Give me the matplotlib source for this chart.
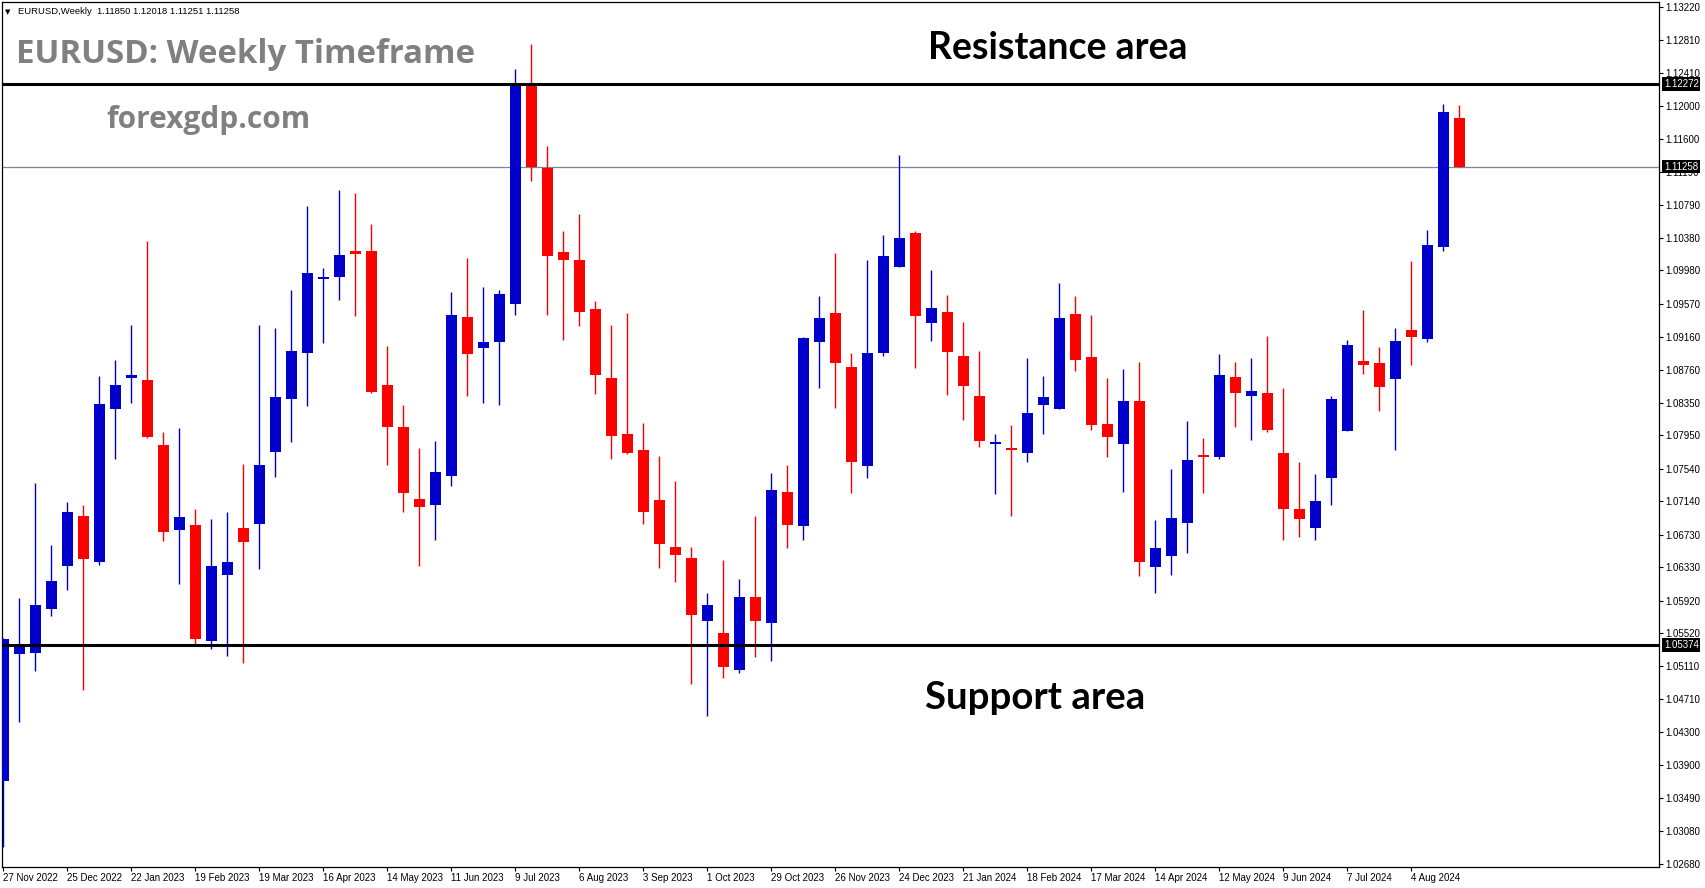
import numpy as np
import pandas as pd
import matplotlib
matplotlib.use("Agg")
from matplotlib import pyplot as plt

W, H = 1705, 888

# weekly EURUSD candles (27 Nov 2022 .. 25 Aug 2024)
opens = [1.0370, 1.0526, 1.0527, 1.0582, 1.0634, 1.0696, 1.0639, 1.0828, 1.0866, 1.0863,
         1.0783, 1.0679, 1.0685, 1.0542, 1.0623, 1.0681, 1.0686, 1.0775, 1.0840, 1.0896,
         1.0987, 1.0990, 1.1022, 1.1022, 1.0857, 1.0805, 1.0717, 1.0710, 1.0745, 1.0941,
         1.0903, 1.0910, 1.0957, 1.1227, 1.1124, 1.1021, 1.1011, 1.0950, 1.0866, 1.0797,
         1.0777, 1.0716, 1.0658, 1.0644, 1.0567, 1.0552, 1.0507, 1.0596, 1.0564, 1.0726,
         1.0684, 1.0910, 1.0946, 1.0879, 1.0757, 1.0896, 1.1002, 1.1044, 1.0933, 1.0947,
         1.0893, 1.0844, 1.0785, 1.0780, 1.0774, 1.0832, 1.0828, 1.0944, 1.0892, 1.0809,
         1.0785, 1.0837, 1.0633, 1.0647, 1.0687, 1.0770, 1.0768, 1.0867, 1.0844, 1.0847,
         1.0774, 1.0705, 1.0681, 1.0743, 1.0801, 1.0887, 1.0884, 1.0865, 1.0925, 1.0914,
         1.1027, 1.11850]
highs = [1.0546, 1.0595, 1.0737, 1.0660, 1.0713, 1.0710, 1.0868, 1.0888, 1.0931, 1.1034,
         1.0799, 1.0804, 1.0705, 1.0692, 1.0701, 1.0760, 1.0931, 1.0927, 1.0974, 1.1077,
         1.1001, 1.1097, 1.1093, 1.1055, 1.0905, 1.0833, 1.0780, 1.0788, 1.0972, 1.1013,
         1.0978, 1.0974, 1.1246, 1.1277, 1.1151, 1.1047, 1.1067, 1.0961, 1.0931, 1.0946,
         1.0810, 1.0770, 1.0739, 1.0658, 1.0601, 1.0642, 1.0619, 1.0696, 1.0749, 1.0759,
         1.0916, 1.0967, 1.1019, 1.0896, 1.1011, 1.1042, 1.1140, 1.1046, 1.0999, 1.0968,
         1.0935, 1.0899, 1.0797, 1.0808, 1.0890, 1.0868, 1.0983, 1.0966, 1.0943, 1.0866,
         1.0877, 1.0885, 1.0691, 1.0754, 1.0813, 1.0792, 1.0895, 1.0885, 1.0890, 1.0917,
         1.0853, 1.0762, 1.0748, 1.0844, 1.0912, 1.0949, 1.0904, 1.0927, 1.1010, 1.1048,
         1.1203, 1.12018]
lows = [1.0289, 1.0443, 1.0505, 1.0573, 1.0605, 1.0482, 1.0636, 1.0766, 1.0835, 1.0792,
        1.0665, 1.0612, 1.0539, 1.0532, 1.0524, 1.0515, 1.0631, 1.0744, 1.0787, 1.0831,
        1.0909, 1.0962, 1.0942, 1.0847, 1.0759, 1.0701, 1.0635, 1.0667, 1.0733, 1.0844,
        1.0835, 1.0833, 1.0943, 1.1108, 1.0943, 1.0912, 1.0930, 1.0846, 1.0766, 1.0772,
        1.0686, 1.0632, 1.0615, 1.0489, 1.0450, 1.0497, 1.0503, 1.0523, 1.0518, 1.0657,
        1.0666, 1.0853, 1.0829, 1.0724, 1.0743, 1.0893, 1.1002, 1.0878, 1.0911, 1.0845,
        1.0814, 1.0781, 1.0723, 1.0696, 1.0762, 1.0797, 1.0828, 1.0874, 1.0802, 1.0768,
        1.0725, 1.0622, 1.0601, 1.0624, 1.0650, 1.0724, 1.0766, 1.0805, 1.0789, 1.0799,
        1.0667, 1.0670, 1.0666, 1.0710, 1.0801, 1.0871, 1.0825, 1.0777, 1.0882, 1.0910,
        1.1022, 1.11251]
closes = [1.0545, 1.0539, 1.0587, 1.0616, 1.0701, 1.0643, 1.0834, 1.0857, 1.0869, 1.0793,
          1.0676, 1.0695, 1.0545, 1.0635, 1.0639, 1.0664, 1.0759, 1.0842, 1.0899, 1.0995,
          1.0990, 1.1017, 1.1018, 1.0849, 1.0805, 1.0724, 1.0707, 1.0750, 1.0943, 1.0895,
          1.0910, 1.0969, 1.1227, 1.1125, 1.1016, 1.1011, 1.0947, 1.0869, 1.0794, 1.0773,
          1.0701, 1.0662, 1.0648, 1.0574, 1.0587, 1.0510, 1.0596, 1.0567, 1.0728, 1.0685,
          1.0915, 1.0940, 1.0884, 1.0762, 1.0896, 1.1016, 1.1038, 1.0942, 1.0952, 1.0898,
          1.0856, 1.0788, 1.0787, 1.0777, 1.0823, 1.0842, 1.0940, 1.0888, 1.0808, 1.0793,
          1.0837, 1.0639, 1.0657, 1.0694, 1.0765, 1.0769, 1.0869, 1.0847, 1.0850, 1.0802,
          1.0705, 1.0692, 1.0714, 1.0840, 1.0906, 1.0882, 1.0855, 1.0911, 1.0916, 1.1029,
          1.1193, 1.11258]

price_ticks = [1.13220, 1.12810, 1.12410, 1.12000, 1.11600, 1.11190, 1.10790, 1.10380,
               1.09980, 1.09570, 1.09160, 1.08760, 1.08350, 1.07950, 1.07540, 1.07140,
               1.06730, 1.06330, 1.05920, 1.05520, 1.05110, 1.04710, 1.04300, 1.03900,
               1.03490, 1.03080, 1.02680]
resistance = 1.12272
support = 1.05374
last_price = 1.11258
header = "EURUSD,Weekly  1.11850 1.12018 1.11251 1.11258"

BULL = "#0000CD"
BEAR = "#FF0000"
GREY = "#808080"

n = len(opens)
x = np.arange(n)
o = np.array(opens)
c = np.array(closes)
cols = np.where(c >= o, BULL, BEAR)
weeks = pd.date_range("2022-11-27", periods=n, freq="7D")

fig = plt.figure(figsize=(W / 100, H / 100), dpi=100)
ax = fig.add_axes([2 / W, 21 / H, 1657 / W, 865 / H])

ax.vlines(x, lows, highs, colors=cols, linewidth=1.0, zorder=2)
ax.bar(x, np.maximum(np.abs(c - o), 0.00015), bottom=np.minimum(o, c), width=0.69,
       color=cols, linewidth=0, zorder=3)

ax.axhline(resistance, color="black", linewidth=2.2, zorder=4)
ax.axhline(support, color="black", linewidth=2.2, zorder=4)
ax.axhline(last_price, color="#778899", linewidth=0.9, zorder=1)

ax.set_xlim(-0.081, 103.47)
ax.set_ylim(1.026428, 1.132814)

ax.yaxis.tick_right()
ax.set_yticks(price_ticks)
ax.set_yticklabels([f"{v:.5f}" for v in price_ticks])
ax.set_xticks(x[::4])
ax.set_xticklabels([f"{d.day} {d.strftime('%b %Y')}" for d in weeks[::4]])
for lab in ax.get_xticklabels():
    lab.set_ha("left")
ax.tick_params(axis="both", direction="out", length=3, width=0.8, labelsize=7, pad=1.5)
for lab in ax.get_xticklabels() + ax.get_yticklabels():
    lab.set_family("Liberation Sans")
for sp in ax.spines.values():
    sp.set_linewidth(0.9)

for v in (resistance, last_price, support):
    ax.annotate(f"{v:.5f}", xy=(1.0, v), xycoords=("axes fraction", "data"),
                xytext=(3.5, 0), textcoords="offset points", ha="left", va="center",
                color="white", fontsize=7, family="Liberation Sans", zorder=6,
                bbox=dict(boxstyle="square,pad=0.18", fc="black", ec="none"),
                annotation_clip=False)

# header
fig.text(5 / W, 1 - 14 / H, "\u25BC", fontsize=5, family="DejaVu Sans", va="baseline")
fig.text(18 / W, 1 - 14 / H, header, fontsize=6.8, family="Liberation Sans", va="baseline")

renderer = fig.canvas.get_renderer()


def caption(s, left, baseline, width, size, family, color):
    # place a caption at pixel position and size it to the width seen in the chart
    t = fig.text(left / W, 1 - baseline / H, s, fontsize=size, family=family,
                 weight="bold", color=color, va="baseline")
    w = t.get_window_extent(renderer).width
    t.set_fontsize(size * width / w)
    return t


caption("EURUSD: Weekly Timeframe", 16, 63, 459, 20, "Open Sans", GREY)
caption("forexgdp.com", 106, 128, 204, 20, "Open Sans", GREY)
caption("Resistance area", 928, 59, 260, 26, "Lato", "black")
caption("Support area", 925, 709, 220, 26, "Lato", "black")

fig.savefig("out.png", dpi=100)
